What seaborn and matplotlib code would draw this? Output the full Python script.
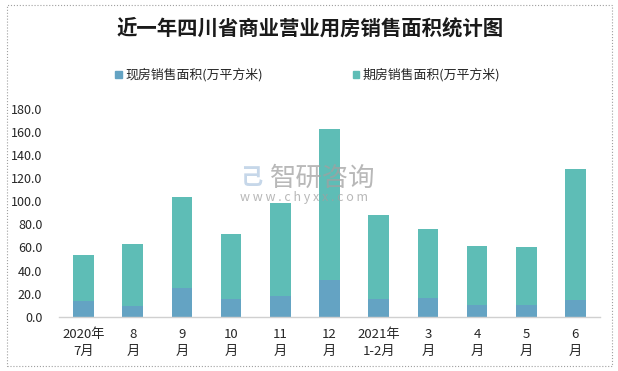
import pandas as pd
import matplotlib.pyplot as plt
import seaborn as sns
from matplotlib.patches import Rectangle, Patch

# Data
months = ['2020年\n7月', '8\n月', '9\n月', '10\n月', '11\n月', '12\n月',
          '2021年\n1-2月', '3\n月', '4\n月', '5\n月', '6\n月']
spot_area = [13.6, 9.3, 25.0, 15.4, 18.0, 31.9, 15.4, 16.3, 10.2, 10.2, 14.5]
future_area = [40.0, 53.9, 79.1, 56.5, 80.9, 130.4, 73.0, 59.9, 51.3, 50.4, 113.9]

spot_label = '现房销售面积(万平方米)'
future_label = '期房销售面积(万平方米)'

df = pd.DataFrame({'month': months, 'spot': spot_area, 'future': future_area})
df['total'] = df['spot'] + df['future']

sns.set_style('white')
plt.rcParams['font.family'] = ['Noto Sans CJK SC', 'DejaVu Sans']

blue = '#64A3C3'
teal = '#5EBDB6'

fig = plt.figure(figsize=(6.18, 3.71), dpi=100)
ax = fig.add_axes([59 / 618, 1 - 316.7 / 371, 541 / 618, 207.7 / 371])

# stacked bars: total in teal, spot part drawn over it in blue
sns.barplot(data=df, x='month', y='total', color=teal, width=0.42,
            saturation=1, ax=ax, order=months, linewidth=0, edgecolor='none')
sns.barplot(data=df, x='month', y='spot', color=blue, width=0.42,
            saturation=1, ax=ax, order=months, linewidth=0, edgecolor='none')

ax.set_ylim(0, 180)
ax.set_xlim(-0.5, len(months) - 0.5)
ax.set_yticks(range(0, 181, 20))
ax.set_yticklabels([f'{v:.1f}' for v in range(0, 181, 20)], fontsize=9)
ax.set_xticks(range(len(months)))
ax.set_xticklabels(months, fontsize=9.5, linespacing=1.38)
ax.set_xlabel('')
ax.set_ylabel('')
ax.tick_params(axis='y', length=0, pad=12)
ax.tick_params(axis='x', length=0, pad=8)
for s in ['top', 'right', 'left']:
    ax.spines[s].set_visible(False)
ax.spines['bottom'].set_color('#d0d0d0')
ax.spines['bottom'].set_linewidth(1)

# Title
fig.text(310 / 618, 1 - 28 / 371, '近一年四川省商业营业用房销售面积统计图', ha='center', va='center',
         fontsize=14.7, fontweight='bold', color='#1a1a1a')

# Legend
handles = [Patch(color=blue, label=spot_label), Patch(color=teal, label=future_label)]
fig.legend(handles=handles, loc='center', bbox_to_anchor=(308 / 618, 1 - 75 / 371), ncol=2,
           frameon=False, fontsize=9.3, handlelength=0.5, handleheight=0.5,
           handletextpad=0.3, columnspacing=6.9)

# Watermark
fig.text(270 / 618, 1 - 178 / 371, '智研咨询', ha='left', va='center', fontsize=19,
         color='#a0a0a0', alpha=0.75)
fig.text(240 / 618, 1 - 198 / 371, 'w w w . c h y x x . c o m', ha='left', va='center',
         fontsize=9, color='#a0a0a0', alpha=0.75)
fig.text(251 / 618, 1 - 178 / 371, '己', ha='center', va='center', fontsize=16,
         color='#b8cde4', alpha=0.8, fontweight='bold')

# Outer frame
fig.patches.append(Rectangle((7 / 618, 5 / 371), 605 / 618, 361 / 371,
                             transform=fig.transFigure, fill=False,
                             edgecolor='#a0a0a0', linewidth=0.8, linestyle=':'))

fig.savefig('out.png', dpi=100)
